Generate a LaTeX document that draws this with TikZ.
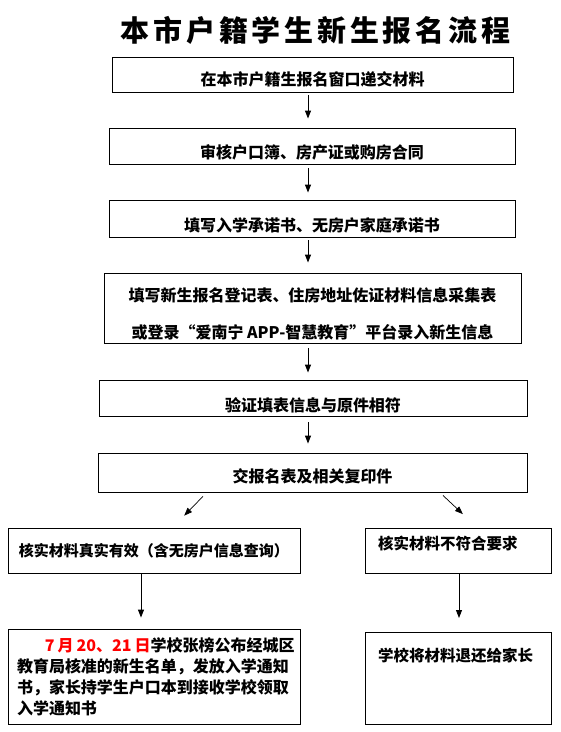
\documentclass[tikz,border=0pt]{standalone}
\usepackage{fontspec}
\usepackage{xcolor}
\usepackage{tikz}
\usetikzlibrary{arrows.meta,positioning}
\newfontfamily\cjk{Noto Sans CJK SC Black}
\newfontfamily\cjktitle{Noto Sans CJK SC Black}[LetterSpace=13]

\begin{document}
\begin{tikzpicture}[x=1pt, y=-1pt,
    box/.style={draw, rectangle, line width=0.9pt, inner sep=0pt, align=center, font=\cjk\fontsize{16}{16}\selectfont},
    side/.style={box, align=left, text width=160pt, inner xsep=13pt, anchor=north, font=\cjk\fontsize{15.5}{15.5}\selectfont},
    arr/.style={-{Triangle[length=8pt, width=6pt]}, line width=0.9pt}
]
\useasboundingbox (0,0) rectangle (561,732);
\node[font=\cjktitle\fontsize{29}{29}\selectfont] (title) at (315.5,30.5) {本市户籍学生新生报名流程};
\node[box, minimum width=401pt, text height=28pt, text depth=7pt] (s1) at (312.5,74.5) {在本市户籍生报名窗口递交材料};
\node[box, minimum width=406pt, text height=30pt, text depth=6pt] (s2) at (312,146) {审核户口簿、房产证或购房合同};
\node[box, minimum width=406pt, text height=31pt, text depth=6pt] (s3) at (312,218.5) {填写入学承诺书、无房户家庭承诺书};
\node[box, minimum width=417pt, minimum height=70pt, font=\cjk\fontsize{16}{37}\selectfont] (s4) at (312.5,308) {\rule{0pt}{25pt}填写新生报名登记表、住房地址佐证材料信息采集表\\或登录“爱南宁 APP-智慧教育”平台录入新生信息};
\node[box, minimum width=428pt, text height=31pt, text depth=5pt] (s5) at (313,398) {验证填表信息与原件相符};
\node[box, minimum width=429pt, text height=29.5pt, text depth=9.5pt] (s6) at (312.5,472.5) {交报名表及相关复印件};
\node[box, minimum width=292pt, minimum height=45pt, font=\cjk\fontsize{15}{15}\selectfont] (ok) at (154,550.5) {核实材料真实有效（含无房户信息查询）};
\node[side, text height=20.7pt, text depth=24.3pt] (bad) at (458,528) {核实材料不符合要求};
\node[box, align=left, text width=274pt, inner xsep=9pt, minimum height=95pt, font=\cjk\fontsize{16}{21}\selectfont] (notice) at (154,676.5) {\mbox{\hspace*{28pt}\textcolor{red}{7\kern3pt月\kern3pt20、21\kern3pt日}学校张榜公布经城区}\\教育局核准的新生名单，发放入学通知\\书，家长持学生户口本到接收学校领取\\入学通知书};
\node[side, text height=28.7pt, text depth=63.3pt] (back) at (458,632) {学校将材料退还给家长};
\draw[arr, shorten <=3pt, shorten >=9pt] ([xshift=-4.5pt]s1.south) -- ([xshift=-4pt]s2.north);
\draw[arr, shorten <=4pt, shorten >=7pt] ([xshift=-4pt]s2.south) -- ([xshift=-4pt]s3.north);
\draw[arr, shorten <=3pt, shorten >=10pt] ([xshift=-4pt]s3.south) -- ([xshift=-4.5pt]s4.north);
\draw[arr, shorten <=5pt, shorten >=7pt] ([xshift=-4.5pt]s4.south) -- ([xshift=-5pt]s5.north);
\draw[arr, shorten <=6pt, shorten >=9pt] ([xshift=-5pt]s5.south) -- ([xshift=-4.5pt]s6.north);
\draw[arr, line width=0.7pt, shorten <=5.5pt, shorten >=16.6pt] ([xshift=-105.7pt]s6.south) -- ([xshift=18.6pt]ok.north);
\draw[arr, line width=0.7pt, shorten <=4.4pt, shorten >=20.3pt] ([xshift=127.3pt]s6.south) -- ([xshift=19.7pt]bad.north);
\draw[arr, shorten >=11pt] ([xshift=-13pt]ok.south) -- ([xshift=-13pt]notice.north);
\draw[arr, shorten >=14pt] ([xshift=1pt]bad.south) -- ([xshift=1pt]back.north);
\end{tikzpicture}
\end{document}
